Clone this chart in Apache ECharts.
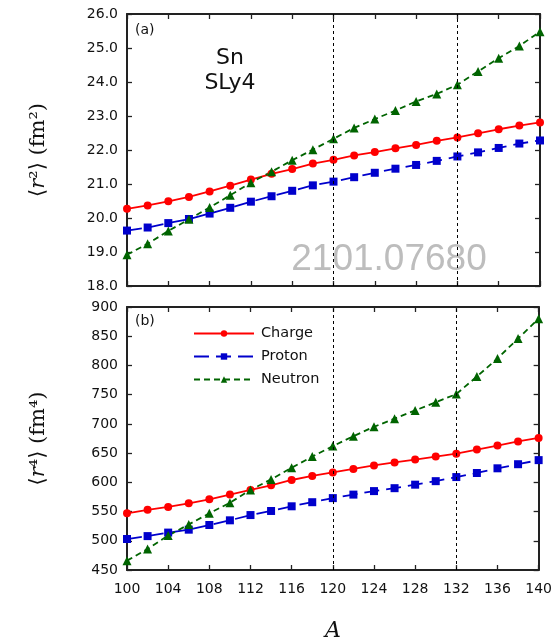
<!DOCTYPE html>
<html>
<head>
<meta charset="utf-8">
<script src="https://cdn.jsdelivr.net/npm/echarts@6/dist/echarts.min.js"></script>
<style>
html,body{margin:0;padding:0;background:#fff;}
#c{width:555px;height:643px;}
</style>
</head>
<body>
<div id="c"></div>
<script>
const massNumbers = [100,102,104,106,108,110,112,114,116,118,120,122,124,126,128,130,132,134,136,138,140];
const r2Charge  = [20.27,20.37,20.49,20.62,20.78,20.95,21.13,21.30,21.44,21.60,21.71,21.84,21.94,22.05,22.15,22.27,22.37,22.49,22.61,22.72,22.81];
const r2Proton  = [19.63,19.72,19.85,19.97,20.13,20.30,20.48,20.64,20.80,20.96,21.07,21.20,21.33,21.45,21.56,21.68,21.81,21.93,22.06,22.19,22.28];
const r2Neutron = [18.92,19.24,19.62,19.96,20.31,20.67,21.04,21.36,21.70,22.01,22.33,22.65,22.91,23.16,23.43,23.65,23.92,24.31,24.70,25.06,25.48];
const r4Charge  = [547,553,558,564,571,579,587,595,604,611,617,623,629,634,639,644,649,656,663,670,676];
const r4Proton  = [503,508,514,519,527,535,544,551,559,566,573,579,585,590,596,602,609,616,624,631,638];
const r4Neutron = [466,486,509,528,547,565,587,605,625,644,662,679,695,709,723,737,751,781,812,846,880];
const shellLines = [120, 132];
const seriesNames = ['Charge','Proton','Neutron'];

const pairs = v => massNumbers.map((a,i)=>[a, v[i]]);
const FONT = 'DejaVu Sans';
const AXC = '#222';

function xAx(grid, pos, labels){
  return {
    type:'value', gridIndex:grid, position:pos, min:100, max:140, interval:4,
    axisLine:{show:true, onZero:false, lineStyle:{color:AXC, width:2}},
    axisTick:{show:true, inside:true, length:5, lineStyle:{color:AXC, width:1.3}},
    axisLabel:{show:labels, color:'#111', fontFamily:FONT, fontSize:14, margin:12},
    splitLine:{show:false}
  };
}
function yAx(grid, pos, min, max, interval, labels, dec){
  return {
    type:'value', gridIndex:grid, position:pos, min:min, max:max, interval:interval,
    axisLine:{show:true, onZero:false, lineStyle:{color:AXC, width:2}},
    axisTick:{show:true, inside:true, length:5, lineStyle:{color:AXC, width:1.3}},
    axisLabel:{show:labels, color:'#111', fontFamily:FONT, fontSize:14, margin:9,
      formatter: v => v.toFixed(dec)},
    splitLine:{show:false}
  };
}

const styles = [
  {color:'#ff0000', symbol:'circle', size:8, dash:'solid'},
  {color:'#0000cc', symbol:'rect', size:8, dash:[15,7]},
  {color:'#006400', symbol:'triangle', size:9, dash:[6,4]}
];

function mkSeries(name, data, grid, st, withMark){
  const s = {
    name:name, type:'line', xAxisIndex:grid*2, yAxisIndex:grid*2,
    data:pairs(data), symbol:st.symbol, symbolSize:st.size, showSymbol:true,
    itemStyle:{color:st.color}, lineStyle:{color:st.color, width:1.8, type:st.dash},
    animation:false, z:3
  };
  if(withMark){
    s.markLine = {
      silent:true, symbol:'none', label:{show:false},
      lineStyle:{color:'#000', width:1, type:[3,3]},
      data: shellLines.map(x=>({xAxis:x})),
      animation:false
    };
  }
  return s;
}

const yName = (p) => ({
  name: '{a|⟨}{i|r}{a|' + p + '⟩ (fm' + p + ')}',
  nameLocation:'middle', nameGap:78, nameRotate:90,
  nameTextStyle:{rich:{
    a:{fontFamily:'DejaVu Serif', fontSize:21, color:'#111'},
    i:{fontFamily:'DejaVu Serif', fontStyle:'italic', fontSize:21, color:'#111'}
  }}
});

const option = {
  backgroundColor:'#fff',
  animation:false,
  grid:[
    {left:127, top:14, width:413, height:272},
    {left:127, top:307, width:413, height:271}
  ],
  xAxis:[
    xAx(0,'bottom',false), xAx(0,'top',false),
    Object.assign(xAx(1,'bottom',true), {name:'A', nameLocation:'middle', nameGap:50,
      nameTextStyle:{fontFamily:'DejaVu Serif', fontStyle:'italic', fontSize:22, color:'#111'}}),
    xAx(1,'top',false)
  ],
  yAxis:[
    Object.assign(yAx(0,'left',18,26,1,true,1), yName('²')),
    yAx(0,'right',18,26,1,false,1),
    Object.assign(yAx(1,'left',450,900,50,true,0), yName('⁴')),
    yAx(1,'right',450,900,50,false,0)
  ],
  legend:{
    orient:'vertical', left:188, top:321,
    data:seriesNames,
    itemWidth:60, itemHeight:8, itemGap:8,
    textStyle:{fontFamily:FONT, fontSize:14.5, color:'#111', padding:[0,0,0,2]},
    selectedMode:false
  },
  graphic:[
    {type:'text', left:135, top:23, z:1, style:{text:'(a)', font:'14px "DejaVu Sans"', fill:'#111'}},
    {type:'text', left:135, top:314, z:1, style:{text:'(b)', font:'14px "DejaVu Sans"', fill:'#111'}},
    {type:'text', x:230, y:58, z:1, style:{text:'Sn', font:'22px "DejaVu Sans"', fill:'#111', align:'center', verticalAlign:'middle'}},
    {type:'text', x:230, y:83, z:1, style:{text:'SLy4', font:'22px "DejaVu Sans"', fill:'#111', align:'center', verticalAlign:'middle'}},
    {type:'text', x:389, y:260, z:0, style:{text:'2101.07680', font:'37px "Liberation Sans"', fill:'#bdbdbd', align:'center', verticalAlign:'middle'}}
  ],
  series:[
    mkSeries(seriesNames[0], r2Charge, 0, styles[0], true),
    mkSeries(seriesNames[1], r2Proton, 0, styles[1], false),
    mkSeries(seriesNames[2], r2Neutron, 0, styles[2], false),
    mkSeries(seriesNames[0], r4Charge, 1, styles[0], true),
    mkSeries(seriesNames[1], r4Proton, 1, styles[1], false),
    mkSeries(seriesNames[2], r4Neutron, 1, styles[2], false)
  ]
};
const chart = echarts.init(document.getElementById('c'), null, {renderer:'canvas'});
chart.setOption(option);
</script>
</body>
</html>
